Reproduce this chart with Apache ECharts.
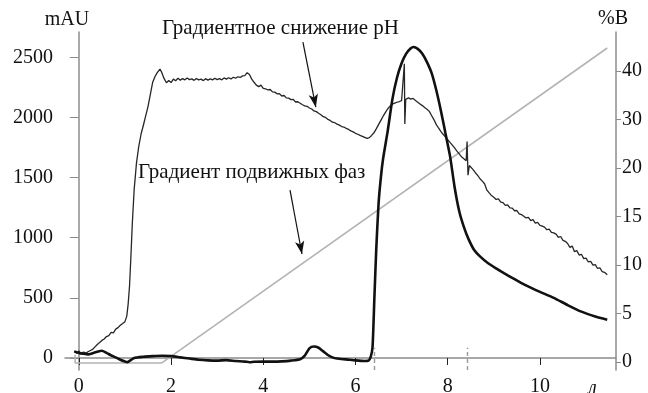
<!DOCTYPE html>
<html>
<head>
<meta charset="utf-8">
<script src="https://cdn.jsdelivr.net/npm/echarts@6/dist/echarts.min.js"></script>
<style>
    html, body {margin: 0; padding: 0; background: #fff;}
    #chart {width: 648px; height: 393px;}
</style>
</head>
<body>
<div id="chart"></div>
<script>
//ось X (объём) и подписи
var volumeTicks = [0, 2, 4, 6, 8, 10];
var mauTicks = [0, 500, 1000, 1500, 2000, 2500];
//правая ось: метки стоят через равные промежутки
var percentSteps = [0, 1, 2, 3, 4, 5, 6];
var percentLabels = ['0', '5', '10', '15', '20', '30', '40'];

//тонкая кривая (pH)
var phTrace = [
    [-0.1, 55], [-0.05, 40], [0, 58], [0.05, 36], [0.1, 50], [0.15, 40], [0.2, 52], [0.25, 62],
    [0.3, 72], [0.35, 92], [0.4, 112], [0.45, 128], [0.5, 146], [0.55, 158], [0.6, 178], [0.65, 186],
    [0.7, 212], [0.75, 208], [0.8, 240], [0.85, 252], [0.9, 272], [0.95, 286], [1.0, 302], [1.04, 348],
    [1.07, 450], [1.1, 600], [1.13, 850], [1.16, 1120], [1.2, 1400], [1.25, 1620], [1.3, 1760],
    [1.35, 1862], [1.4, 1935], [1.45, 2012], [1.5, 2090], [1.55, 2190], [1.6, 2290], [1.65, 2338],
    [1.7, 2372], [1.76, 2402], [1.8, 2372], [1.85, 2322], [1.9, 2288], [1.95, 2306], [2.0, 2290],
    [2.05, 2318], [2.1, 2305], [2.15, 2325], [2.2, 2310], [2.25, 2322], [2.3, 2312], [2.35, 2328],
    [2.4, 2314], [2.45, 2320], [2.5, 2308], [2.55, 2324], [2.6, 2312], [2.65, 2318], [2.7, 2306],
    [2.75, 2322], [2.8, 2310], [2.85, 2320], [2.9, 2312], [2.95, 2326], [3.0, 2314], [3.05, 2322],
    [3.1, 2312], [3.15, 2328], [3.2, 2318], [3.25, 2330], [3.3, 2320], [3.35, 2334], [3.4, 2326],
    [3.45, 2338], [3.5, 2332], [3.55, 2345], [3.6, 2348], [3.65, 2372], [3.7, 2356], [3.75, 2318],
    [3.8, 2292], [3.85, 2268], [3.9, 2256], [3.95, 2268], [4.0, 2242], [4.05, 2238], [4.1, 2228],
    [4.15, 2232], [4.2, 2212], [4.25, 2210], [4.3, 2196], [4.35, 2198], [4.4, 2178], [4.45, 2182],
    [4.5, 2162], [4.55, 2160], [4.6, 2148], [4.65, 2150], [4.7, 2128], [4.75, 2130], [4.8, 2118],
    [4.85, 2105], [4.9, 2096], [4.95, 2092], [5.0, 2078], [5.05, 2070], [5.1, 2054], [5.15, 2048],
    [5.2, 2034], [5.25, 2022], [5.3, 2006], [5.35, 2000], [5.4, 1984], [5.45, 1975], [5.5, 1960],
    [5.55, 1956], [5.6, 1944], [5.65, 1936], [5.7, 1924], [5.75, 1920], [5.8, 1908], [5.85, 1900],
    [5.9, 1888], [5.95, 1880], [6.0, 1868], [6.05, 1860], [6.1, 1850], [6.15, 1842], [6.2, 1834],
    [6.25, 1826], [6.3, 1832], [6.35, 1850], [6.4, 1872], [6.45, 1905], [6.5, 1940], [6.55, 1975],
    [6.6, 2010], [6.65, 2042], [6.7, 2072], [6.75, 2094], [6.8, 2110], [6.85, 2118], [6.9, 2126],
    [6.95, 2132], [7.0, 2140], [7.04, 2128], [7.06, 2445], [7.07, 1945], [7.09, 2150], [7.15, 2162],
    [7.2, 2152], [7.25, 2158], [7.3, 2140], [7.35, 2126], [7.4, 2112], [7.45, 2098], [7.5, 2082],
    [7.55, 2068], [7.6, 2050], [7.65, 2016], [7.7, 1982], [7.75, 1942], [7.8, 1912], [7.85, 1884],
    [7.9, 1860], [7.95, 1838], [8.0, 1815], [8.05, 1792], [8.1, 1770], [8.15, 1746], [8.2, 1720],
    [8.25, 1696], [8.3, 1672], [8.35, 1656], [8.4, 1640], [8.42, 1800], [8.44, 1520], [8.47, 1600],
    [8.5, 1588], [8.55, 1566], [8.6, 1540], [8.65, 1518], [8.7, 1490], [8.75, 1470], [8.8, 1448],
    [8.85, 1395], [8.9, 1372], [8.95, 1350], [9.0, 1336], [9.05, 1318], [9.1, 1322], [9.15, 1296],
    [9.2, 1292], [9.25, 1268], [9.3, 1272], [9.35, 1248], [9.4, 1246], [9.45, 1224], [9.5, 1226],
    [9.55, 1198], [9.6, 1192], [9.65, 1178], [9.7, 1164], [9.75, 1168], [9.8, 1142], [9.85, 1150],
    [9.9, 1122], [9.95, 1128], [10.0, 1102], [10.05, 1096], [10.1, 1088], [10.15, 1066], [10.2, 1072],
    [10.25, 1044], [10.3, 1040], [10.35, 1030], [10.4, 1002], [10.45, 1010], [10.5, 978], [10.55, 970],
    [10.6, 952], [10.65, 920], [10.7, 930], [10.75, 884], [10.8, 892], [10.85, 856], [10.9, 862],
    [10.95, 826], [11.0, 830], [11.05, 798], [11.1, 804], [11.15, 772], [11.2, 776], [11.25, 744],
    [11.3, 750], [11.35, 718], [11.4, 712], [11.46, 692]
];

//жирная кривая (пик белка)
var peakTrace = [
    [-0.1, 55], [0, 42], [0.1, 35], [0.2, 30], [0.3, 40], [0.4, 52], [0.5, 60], [0.6, 42], [0.7, 22],
    [0.8, 5], [0.9, -15], [1.0, -30], [1.05, -35], [1.1, -25], [1.2, 0], [1.4, 10], [1.6, 15],
    [1.8, 18], [2.0, 15], [2.2, 5], [2.4, -5], [2.6, -15], [2.8, -20], [3.0, -22], [3.2, -18],
    [3.4, -25], [3.6, -30], [3.7, -35], [3.8, -32], [4.0, -30], [4.2, -30], [4.4, -28], [4.6, -22],
    [4.8, -10], [4.9, 20], [5.0, 80], [5.1, 95], [5.2, 85], [5.3, 55], [5.4, 25], [5.5, 5], [5.6, -5],
    [5.8, -12], [6.0, -20], [6.2, -25], [6.28, -22], [6.33, 10], [6.37, 90], [6.41, 500], [6.45, 900],
    [6.5, 1280], [6.55, 1500], [6.6, 1660], [6.7, 1890], [6.8, 2150], [6.9, 2330], [7.0, 2450],
    [7.1, 2530], [7.2, 2575], [7.26, 2585], [7.35, 2570], [7.45, 2530], [7.55, 2460], [7.65, 2370],
    [7.75, 2230], [7.85, 2060], [7.95, 1870], [8.05, 1680], [8.15, 1420], [8.25, 1220], [8.35, 1090],
    [8.45, 990], [8.57, 900], [8.7, 845], [8.87, 790], [9.05, 745], [9.22, 705], [9.4, 665],
    [9.59, 625], [9.8, 585], [10.0, 550], [10.3, 500], [10.6, 440], [10.9, 385], [11.2, 345], [11.46, 318]
];

//градиент подвижных фаз (в шагах правой оси)
var gradientTrace = [[-0.08, 0.15], [-0.08, -0.02], [1.8, -0.02], [11.46, 6.47]];

//отметки фракций
var fractionMarks = [6.4, 8.42];

var FONT = '"Liberation Serif", "Times New Roman", serif';
var AXIS_GRAY = '#8c8c8c';

function drawChart() {
    var chart = echarts.init(document.getElementById('chart'));

    var fractionLines = [];
    for (var i = 0; i < fractionMarks.length; i++) {
        fractionLines.push([{coord: [fractionMarks[i], -100]}, {coord: [fractionMarks[i], 85]}]);
    }

    var option = {
        animation: false,
        grid: {left: 65, right: 32, top: 32, bottom: 23, containLabel: false, outerBoundsMode: 'none'},
        xAxis: {
            type: 'value',
            min: -0.3,
            max: 11.65,
            axisLine: {lineStyle: {color: AXIS_GRAY, width: 1.5}},
            axisTick: {customValues: volumeTicks, length: 7, lineStyle: {color: '#222', width: 1}},
            axisLabel: {
                customValues: volumeTicks, margin: 7, fontFamily: FONT, fontSize: 20, color: '#111',
                formatter: function (v) {
                    return String(v);
                }
            },
            splitLine: {show: false}
        },
        yAxis: [{
            type: 'value',
            min: -100,
            max: 2710,
            axisLine: {show: true, lineStyle: {color: AXIS_GRAY, width: 1.5}},
            axisTick: {show: true, customValues: mauTicks, length: 9, lineStyle: {color: AXIS_GRAY}},
            axisLabel: {
                customValues: mauTicks, margin: 12, fontFamily: FONT, fontSize: 20, color: '#111',
                formatter: function (v) {
                    return String(v);
                }
            },
            splitLine: {show: false}
        }, {
            type: 'value',
            position: 'right',
            min: -0.165,
            max: 6.8,
            axisLine: {show: true, lineStyle: {color: AXIS_GRAY, width: 1.5}},
            axisTick: {show: true, customValues: percentSteps, length: 5, lineStyle: {color: AXIS_GRAY}},
            axisLabel: {
                customValues: percentSteps, margin: 6, fontFamily: FONT, fontSize: 20, color: '#111',
                formatter: function (v) {
                    return percentLabels[Math.round(v)];
                }
            },
            splitLine: {show: false}
        }],
        series: [{
            name: 'gradient',
            type: 'line',
            yAxisIndex: 1,
            symbol: 'none',
            lineStyle: {color: '#b4b4b4', width: 1.6},
            data: gradientTrace
        }, {
            name: 'pH',
            type: 'line',
            symbol: 'none',
            lineStyle: {color: '#262626', width: 1.3},
            data: phTrace,
            markLine: {
                silent: true,
                label: {show: false},
                lineStyle: {color: '#111', width: 1.2, type: 'solid'},
                data: [
                    [{coord: [4.86, 2625], symbol: 'none'}, {coord: [5.14, 2085], symbol: 'arrow', symbolSize: [7, 13]}],
                    [{coord: [4.58, 1395], symbol: 'none'}, {coord: [4.84, 864], symbol: 'arrow', symbolSize: [7, 13]}]
                ]
            }
        }, {
            name: 'peak',
            type: 'line',
            symbol: 'none',
            smooth: 0.2,
            lineStyle: {color: '#111', width: 2.6},
            data: peakTrace,
            markLine: {
                silent: true,
                symbol: 'none',
                label: {show: false},
                lineStyle: {color: '#999', width: 1.4, type: [4, 3]},
                data: fractionLines
            }
        }],
        graphic: [{
            type: 'text', x: 67, y: 20,
            style: {text: 'mAU', font: '20px ' + FONT, fill: '#111', align: 'center', verticalAlign: 'middle'}
        }, {
            type: 'text', x: 613, y: 19,
            style: {text: '%B', font: '20px ' + FONT, fill: '#111', align: 'center', verticalAlign: 'middle'}
        }, {
            type: 'text', x: 162, y: 28,
            style: {text: 'Градиентное снижение pH', font: '21px ' + FONT, fill: '#111', verticalAlign: 'middle'}
        }, {
            type: 'text', x: 138, y: 172,
            style: {text: 'Градиент подвижных фаз', font: '21px ' + FONT, fill: '#111', verticalAlign: 'middle'}
        }, {
            type: 'text', x: 588, y: 379,
            style: {text: 'л', font: 'italic 20px ' + FONT, fill: '#111'}
        }]
    };
    chart.setOption(option, true);
}

drawChart();
</script>
</body>
</html>
